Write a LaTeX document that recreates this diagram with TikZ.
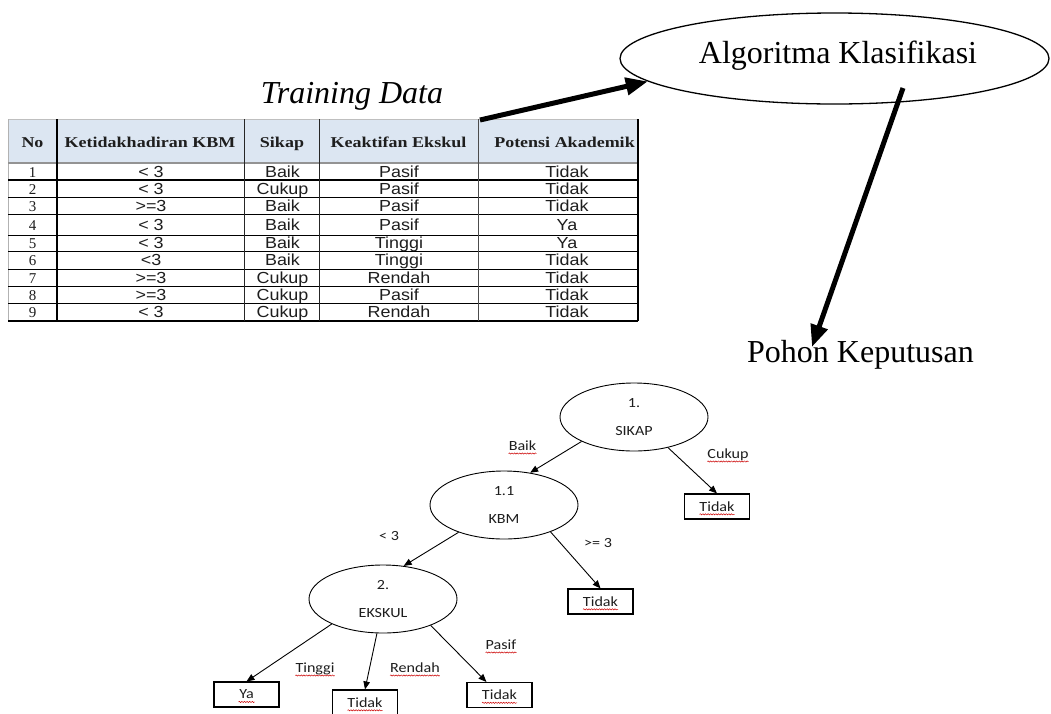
\documentclass[tikz,border=0pt]{standalone}
\usepackage{fontspec}
\setmainfont{Liberation Serif}
\newfontfamily\arialf{Liberation Sans}
\newfontfamily\calif{Carlito}
\usetikzlibrary{arrows.meta,shapes.geometric,decorations.pathmorphing,calc}
\definecolor{hdrblue}{HTML}{DCE6F2}
\definecolor{txtdark}{HTML}{1E1E1E}
\newcommand{\hdr}[1]{\scalebox{1.2}[1]{\fontsize{15}{17}\selectfont\bfseries #1}}
\newcommand{\dat}[1]{\scalebox{1.12}[1]{\fontsize{16}{18}\selectfont\arialf #1}}
\newcommand{\trt}[1]{\scalebox{1.15}[1]{\fontsize{14}{16}\selectfont\calif #1}}
\newcommand{\squigw}[2]{\draw[squig] ($(#1.base)+(-#2,3)$) -- ($(#1.base)+(#2,3)$);}
\newcommand{\squigl}[1]{\draw[squig] ($(#1.base west)+(0,3)$) -- ($(#1.base east)+(0,3)$);}
\begin{document}
\begin{tikzpicture}[x=1pt,y=-1pt,
  bigarrow/.style={line width=5pt,-{Triangle[length=22pt,width=17pt]}},
  treearrow/.style={line width=0.9pt,-{Triangle[length=8pt,width=6.5pt]}},
  tnode/.style={ellipse,draw,line width=0.9pt,minimum width=148pt,minimum height=68pt,inner sep=0pt,align=center,font=\fontsize{14}{28}\selectfont,text=txtdark},
  leafbox/.style={draw,line width=1.1pt,minimum width=65pt,minimum height=25pt,inner sep=0pt,text=txtdark},
  lbl/.style={inner sep=0pt,text=txtdark,anchor=base},
  squig/.style={decorate,decoration={snake,amplitude=0.6pt,segment length=2.6pt},draw=red!80!black,line width=0.5pt},
  bigtext/.style={font=\fontsize{32}{36}\selectfont,inner sep=0pt,anchor=base},
  tcell/.style={inner sep=0pt,text=txtdark,anchor=base},
]
\useasboundingbox (0,0) rectangle (1051,713);
\fill[white] (0,0) rectangle (1051,713);

% ---------- Table ----------
\fill[hdrblue] (8,119) rectangle (638,163);
\draw[gray!50,line width=0.8pt] (8,119) -- (638,119);
\draw[gray!60,line width=0.8pt] (8,119) -- (8,321);
\foreach \yy in {197,214,235,251,269,286,303}
  \draw[black,line width=0.9pt] (8,\yy) -- (638,\yy);
\draw[black,line width=1.4pt] (8,180) -- (638,180);
\draw[black,line width=1.4pt] (8,321) -- (638,321);
\draw[gray!85,line width=2pt] (8,163) -- (638,163);
\draw[black!85,line width=0.9pt] (244,119) -- (244,321);
\draw[black!85,line width=0.9pt] (319,119) -- (319,321);
\draw[black!70,line width=0.9pt] (478,119) -- (478,321);
\draw[black,line width=1.5pt] (57,119) -- (57,321);
\draw[black,line width=1.5pt] (638,119) -- (638,321);

\node[tcell] (h1) at (32.5,147) {\hdr{No}};
\node[tcell] (h2) at (150,147) {\hdr{Ketidakhadiran KBM}};
\node[tcell] (h3) at (282,147) {\hdr{Sikap}};
\node[tcell] (h4) at (398.5,147) {\hdr{Keaktifan Ekskul}};
\node[tcell] (h5) at (564.5,147) {\hdr{Potensi Akademik}};

\foreach \i/\yy/\a/\b/\c/\d in {
  1/177.3/< 3/Baik/Pasif/Tidak,
  2/194.3/< 3/Cukup/Pasif/Tidak,
  3/211.3/>=3/Baik/Pasif/Tidak,
  4/230.8/< 3/Baik/Pasif/Ya,
  5/248.8/< 3/Baik/Tinggi/Ya,
  6/265.8/<3/Baik/Tinggi/Tidak,
  7/283.3/>=3/Cukup/Rendah/Tidak,
  8/300.3/>=3/Cukup/Pasif/Tidak,
  9/317.8/< 3/Cukup/Rendah/Tidak}{
  \node[tcell,font=\fontsize{15}{17}\selectfont] (n\i) at (32.5,\yy) {\i};
  \node[tcell] (k\i) at (151,\yy) {\dat{\a}};
  \node[tcell] (s\i) at (282.5,\yy) {\dat{\b}};
  \node[tcell] (e\i) at (399,\yy) {\dat{\c}};
  \node[tcell] (p\i) at (567,\yy) {\dat{\d}};
}

% ---------- Titles and big arrows ----------
\node[bigtext,font=\fontsize{32}{36}\selectfont\itshape] (td) at (352,103) {Training Data};
\node[ellipse,draw,line width=1.3pt,minimum width=429pt,minimum height=91pt,inner sep=0pt] (alg) at (834.5,58.5) {};
\node[bigtext] (algtxt) at (838,63) {Algoritma Klasifikasi};
\node[bigtext] (pk) at (860.5,362) {Pohon Keputusan};
\coordinate (tblc) at (480,120);
\coordinate (algout) at (903,88);
\draw[bigarrow] (tblc) -- (alg.187);
\draw[bigarrow] (algout) -- ($(pk.base west)+(65,-15)$);

% ---------- Decision tree ----------
\node[tnode] (sikap) at (634,417) {\trt{1.}\\\trt{SIKAP}};
\node[tnode] (kbm) at (504,505) {\trt{1.1}\\\trt{KBM}};
\node[tnode] (eks) at (383,599) {\trt{2.}\\\trt{EKSKUL}};
\node[leafbox] (t1) at (717,506.5) {\trt{Tidak}};
\node[leafbox] (t2) at (600.5,601.5) {\trt{Tidak}};
\node[leafbox] (ya) at (246.5,694.5) {\trt{Ya}};
\node[leafbox] (t3) at (365,702.5) {\trt{Tidak}};
\node[leafbox] (t4) at (499.5,695) {\trt{Tidak}};

\draw[treearrow] (sikap.205) -- (kbm.51);
\draw[treearrow] (sikap.318) -- (t1.north);
\draw[treearrow] (kbm.211) -- (eks.58);
\draw[treearrow] (kbm.330) -- (t2.north);
\draw[treearrow] (eks.206) -- (ya.north);
\draw[treearrow] (eks.260) -- (t3.north);
\draw[treearrow] (eks.331) -- (t4.135);

\node[lbl] (lbaik) at (522.5,450.5) {\trt{Baik}};
\node[lbl] (lcukup) at (728,458.5) {\trt{Cukup}};
\node[lbl] (llt) at (389,540.5) {\trt{< 3}};
\node[lbl] (lge) at (598,547.5) {\trt{>= 3}};
\node[lbl] (lting) at (315,672.5) {\trt{Tinggi}};
\node[lbl] (lrend) at (415,672.5) {\trt{Rendah}};
\node[lbl] (lpas) at (501,649.5) {\trt{Pasif}};

\squigl{lbaik}
\squigl{lcukup}
\squigl{lting}
\squigl{lrend}
\squigl{lpas}
\squigw{t1}{17.5}
\squigw{t2}{17.5}
\squigw{t3}{17.5}
\squigw{t4}{17.5}
\squigw{ya}{8}
\end{tikzpicture}
\end{document}
